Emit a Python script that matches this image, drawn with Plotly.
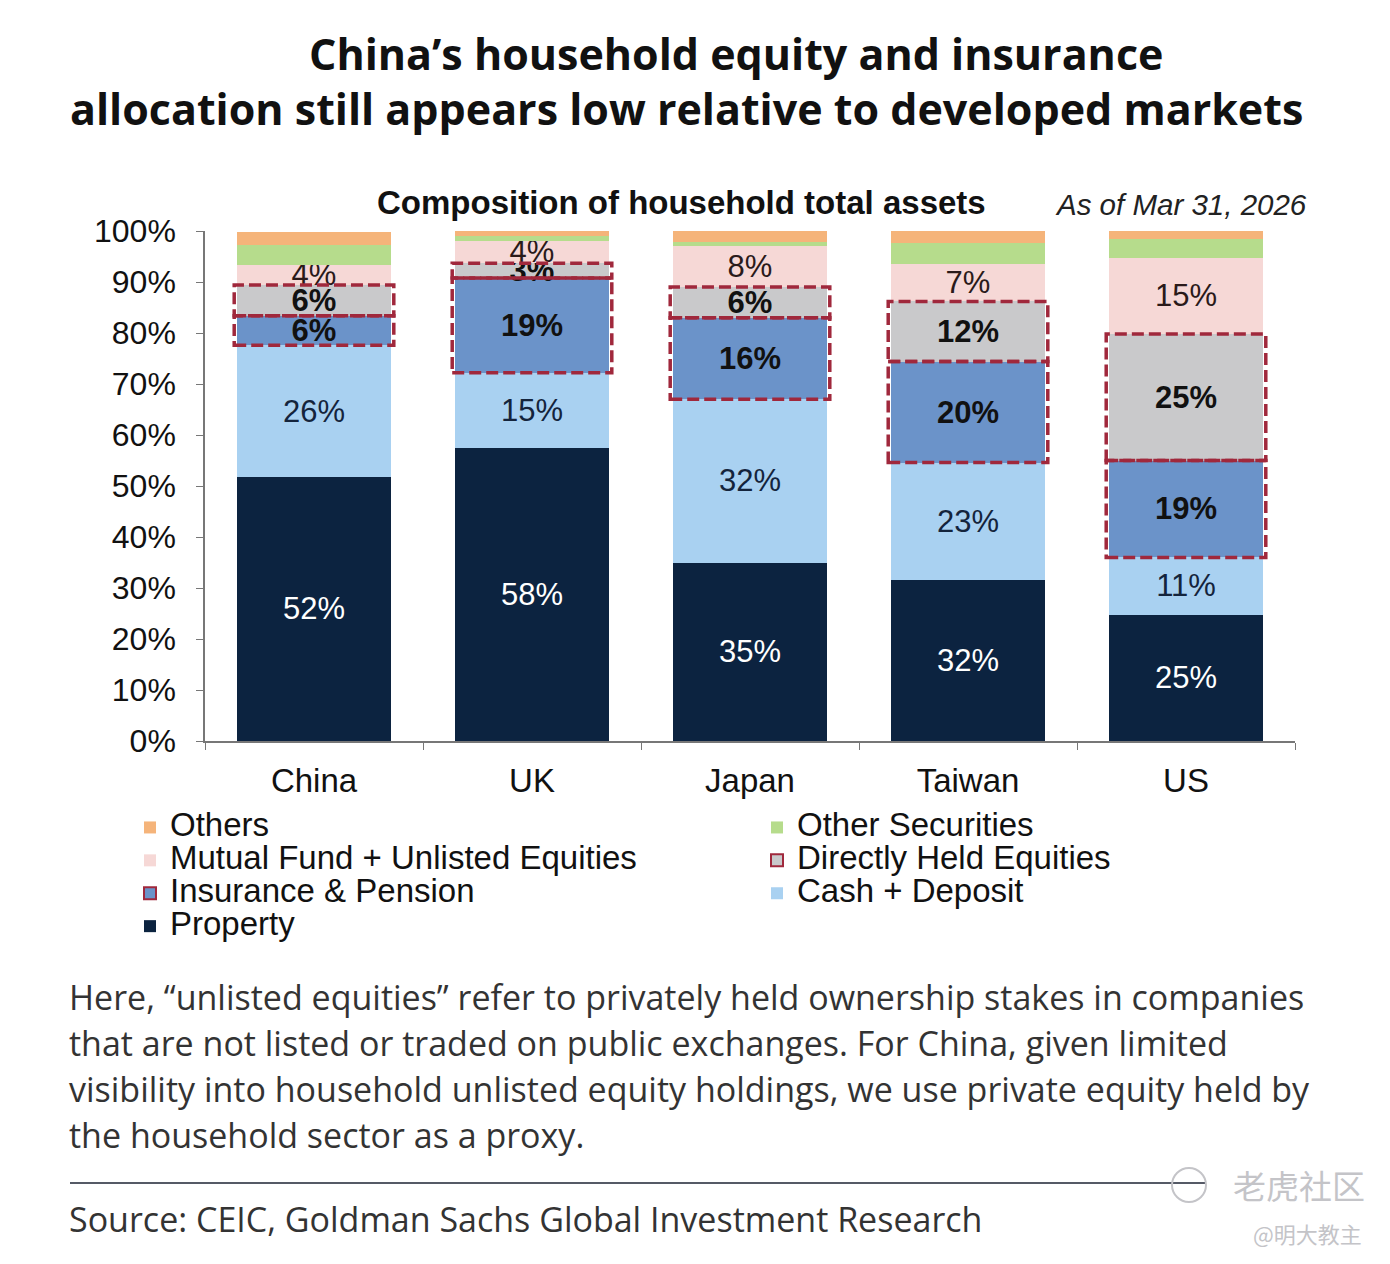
import plotly.graph_objects as go

countries = ["China", "UK", "Japan", "Taiwan", "US"]

# share of household total assets, %, bottom segment first
property_pct = [51.8, 57.5, 35.0, 31.6, 24.8]
cash_deposit = [25.8, 14.7, 32.0, 23.0, 11.2]
insurance_pension = [5.8, 18.6, 16.0, 19.8, 19.0]
directly_held = [6.0, 2.9, 6.0, 11.8, 24.8]
mutual_fund = [4.0, 4.4, 8.0, 7.4, 15.0]
other_securities = [3.8, 1.0, 0.8, 4.0, 3.6]
others = [2.6, 0.9, 2.2, 2.4, 1.6]

title_lines = [
    "China\u2019s household equity and insurance",
    "allocation still appears low relative to developed markets",
]
note_lines = [
    "Here, \u201cunlisted equities\u201d refer to privately held ownership stakes in companies",
    "that are not listed or traded on public exchanges. For China, given limited",
    "visibility into household unlisted equity holdings, we use private equity held by",
    "the household sector as a proxy.",
]
source_text = "Source: CEIC, Goldman Sachs Global Investment Research"

# page body adds 8px, so the figure is 16px smaller than the window
PAGE_PAD = 8
W, H = 1390 - 2 * PAGE_PAD, 1264 - 2 * PAGE_PAD
PLOT_W, PLOT_H = 1090, 510
L, T = 205 - PAGE_PAD, 231 - PAGE_PAD
R, B = W - L - PLOT_W, H - T - PLOT_H
BAR_W = 0.71
ARIAL = "Liberation Sans, Arial, sans-serif"
HUMANIST = "Open Sans, Noto Sans, sans-serif"
OUTLINE = "#a0283c"


def px_x(px):
    # px measured on the 1390x1264 screenshot
    return (px - PAGE_PAD - L) / PLOT_W


def px_y(py):
    return (T + PLOT_H - (py - PAGE_PAD)) / PLOT_H


# (name, values, colour, label colour, bold label, dashed outline, legend)
series = [
    ("Property", property_pct, "#0c2340", "white", False, False, "legend"),
    ("Cash + Deposit", cash_deposit, "#a9d1f1", "#14243c", False, False, "legend2"),
    ("Insurance & Pension", insurance_pension, "#6b93c9", "#111111", True, True, "legend"),
    ("Directly Held Equities", directly_held, "#c9c9cb", "#111111", True, True, "legend2"),
    ("Mutual Fund + Unlisted Equities", mutual_fund, "#f6d8d6", "#2a1a1a", False, False, "legend"),
    ("Other Securities", other_securities, "#b6dc8c", None, False, False, "legend2"),
    ("Others", others, "#f5b47a", None, False, False, "legend"),
]


def legend_name(name):
    # bigger glyphs than the legend font so the rows stay tight like the original
    return '<span style="font-size:33px">%s</span>' % name


fig = go.Figure()
shapes = []
base = [0.0] * len(countries)
for name, vals, color, txt_color, bold, dashed, leg in series:
    labels = None
    if txt_color is not None:
        labels = ["<b>%d%%</b>" % round(v) if bold else "%d%%" % round(v) for v in vals]
    fig.add_trace(go.Bar(
        name=legend_name(name),
        x=countries,
        y=vals,
        width=BAR_W,
        marker=dict(color=color, line_width=0),
        text=labels,
        textposition="inside" if labels else "none",
        insidetextanchor="middle",
        textfont=dict(family=ARIAL, size=31, color=txt_color or "black"),
        hovertemplate=name + ": %{y:.1f}%<extra>%{x}</extra>",
        showlegend=not dashed,
        legend=leg,
    ))
    if dashed:
        # legend-only entry so the key shows the red outline
        fig.add_trace(go.Bar(
            name=legend_name(name), x=[countries[0]], y=[None],
            marker=dict(color=color, line=dict(color=OUTLINE, width=2)),
            hoverinfo="skip", legend=leg,
        ))
        for i, v in enumerate(vals):
            shapes.append(dict(
                type="rect", xref="x", yref="y",
                x0=i - 0.366, x1=i + 0.366, y0=base[i], y1=base[i] + v,
                line=dict(color=OUTLINE, width=3.5, dash="12px,5px"),
                fillcolor="rgba(0,0,0,0)", layer="above",
            ))
    base = [b + v for b, v in zip(base, vals)]

annotations = []
for k, (line, cx) in enumerate(zip(title_lines, [736, 686])):
    annotations.append(dict(
        text="<b>%s</b>" % line, x=px_x(cx), y=px_y(54 + 55 * k),
        xanchor="center", yanchor="middle",
        font=dict(family=HUMANIST, size=43, color="#111111"),
    ))
annotations.append(dict(
    text="<b>Composition of household total assets</b>",
    x=px_x(681), y=px_y(202), xanchor="center", yanchor="middle",
    font=dict(family=ARIAL, size=33, color="#111111"),
))
annotations.append(dict(
    text="<i>As of Mar 31, 2026</i>",
    x=px_x(1309), y=px_y(205), xanchor="right", yanchor="middle",
    font=dict(family=ARIAL, size=29.5, color="#222222"),
))
for k, line in enumerate(note_lines):
    annotations.append(dict(
        text=line, x=px_x(67), y=px_y(997 + 46 * k),
        xanchor="left", yanchor="middle",
        font=dict(family=HUMANIST, size=34, color="#333333"),
    ))
annotations.append(dict(
    text=source_text, x=px_x(67), y=px_y(1219),
    xanchor="left", yanchor="middle",
    font=dict(family=HUMANIST, size=34, color="#333333"),
))
annotations.append(dict(
    text="老虎社区", x=px_x(1367), y=px_y(1185),
    xanchor="right", yanchor="middle",
    font=dict(family="Noto Sans CJK SC", size=33, color="#c4c4c8"),
))
annotations.append(dict(
    text="@明大教主", x=px_x(1364), y=px_y(1233),
    xanchor="right", yanchor="middle",
    font=dict(family="Noto Sans CJK SC", size=22, color="#c4c4c8"),
))
for a in annotations:
    a.update(xref="paper", yref="paper", showarrow=False)

shapes.append(dict(
    type="line", xref="paper", yref="paper",
    x0=px_x(70), x1=px_x(1205), y0=px_y(1183), y1=px_y(1183),
    line=dict(color="#555a66", width=2),
))
shapes.append(dict(
    type="circle", xref="paper", yref="paper",
    x0=px_x(1172), x1=px_x(1206), y0=px_y(1168), y1=px_y(1202),
    line=dict(color="#c4c4c8", width=2),
))

legend_common = dict(
    xanchor="left", yanchor="top", traceorder="reversed",
    font=dict(family=ARIAL, size=23, color="#111111"),
    bgcolor="rgba(0,0,0,0)", itemclick=False, tracegroupgap=0,
)

fig.update_layout(
    width=W, height=H,
    margin=dict(l=L, r=R, t=T, b=B, autoexpand=False),
    paper_bgcolor="white",
    plot_bgcolor="white",
    barmode="stack",
    uniformtext=dict(minsize=31, mode="show"),
    shapes=shapes,
    annotations=annotations,
    legend=dict(x=px_x(130), y=px_y(806), **legend_common),
    legend2=dict(x=px_x(757), y=px_y(806), **legend_common),
    xaxis=dict(
        range=[-0.5, 4.5], showline=True, linecolor="#777777", linewidth=1.5,
        ticks="outside", tickson="boundaries", ticklen=7, tickcolor="#777777",
        ticklabelstandoff=10,
        tickfont=dict(family=ARIAL, size=33, color="#111111"),
        showgrid=False, fixedrange=True,
    ),
    yaxis=dict(
        range=[0, 100], dtick=10, ticksuffix="%",
        showline=True, linecolor="#777777", linewidth=1.5,
        ticks="outside", ticklen=7, tickcolor="#777777",
        ticklabelstandoff=14,
        tickfont=dict(family=ARIAL, size=32, color="#111111"),
        showgrid=False, zeroline=False, fixedrange=True,
    ),
)

fig.write_html("out.html")
